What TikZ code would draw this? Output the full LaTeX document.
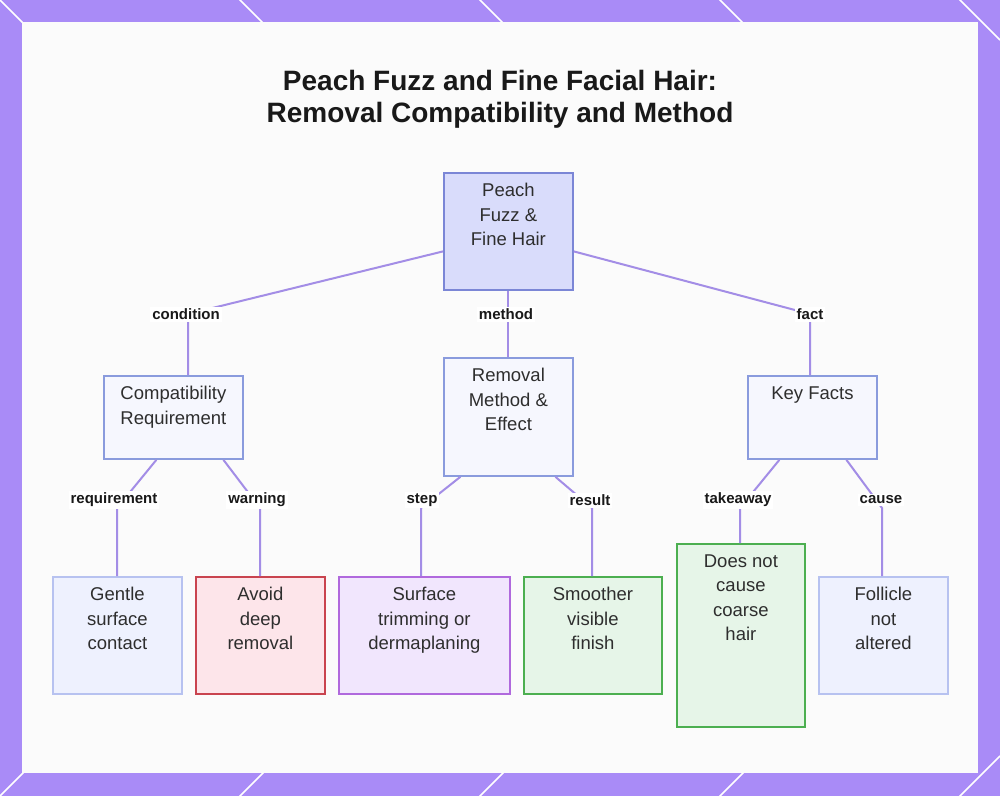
\documentclass[tikz,border=0pt]{standalone}
\usepackage{fontspec}
\setmainfont{Liberation Sans}
\usetikzlibrary{calc}
\begin{document}
\begin{tikzpicture}[x=1pt,y=-1pt,
  box/.style={draw, line width=1.8pt, anchor=north west, inner sep=0pt},
  txt/.style={align=center, font=\fontsize{18.5}{24.5}\selectfont, text=black!82, anchor=north},
  lab/.style={font=\bfseries\fontsize{15}{17}\selectfont, fill=white, inner sep=2pt, text=black!90},
  edge/.style={draw=edgec, line width=2pt}]
\definecolor{purp}{HTML}{A98BF7}
\definecolor{edgec}{HTML}{A38DE6}
\definecolor{bA}{HTML}{D9DCFB}\definecolor{dA}{HTML}{7B86D6}
\definecolor{bB}{HTML}{F6F7FE}\definecolor{dB}{HTML}{8A9BDD}
\definecolor{bC}{HTML}{EEF1FE}\definecolor{dC}{HTML}{B7C2F0}
\definecolor{bR}{HTML}{FDE5EA}\definecolor{dR}{HTML}{C9444F}
\definecolor{bP}{HTML}{F1E6FD}\definecolor{dP}{HTML}{B069DD}
\definecolor{bG}{HTML}{E6F5E8}\definecolor{dG}{HTML}{4CAF50}
\useasboundingbox (0,0) rectangle (1000,796);
\fill[purp] (0,0) rectangle (1000,796);
\foreach \a in {0,240,...,1200}{\draw[white, line width=1.5pt] (\a-40,-40) -- (\a+40,40);}
\foreach \a in {0,240,...,1200}{\draw[white, line width=1.5pt] (\a-40,836) -- (\a+40,756);}
\fill[white!97!gray] (22,22) rectangle (978,773);
\node[font=\bfseries\fontsize{28}{32}\selectfont, align=center, text=black!90] (title) at (500,99) {Peach Fuzz and Fine Facial Hair:\\Removal Compatibility and Method};
% nodes
\node[box, fill=bA, draw=dA, minimum width=129pt, minimum height=117pt] (root) at (443,172) {};
\node[txt] (rt) at ($(root.north)+(0,8)$) {Peach\\Fuzz \&\\Fine Hair};
\node[box, fill=bB, draw=dB, minimum width=139pt, minimum height=83pt] (comp) at (103,375) {};
\node[txt] (ct) at ($(comp.north)+(0,8)$) {Compatibility\\Requirement};
\node[box, fill=bB, draw=dB, minimum width=129pt, minimum height=118pt] (rem) at (443,357) {};
\node[txt] (rmt) at ($(rem.north)+(0,8)$) {Removal\\Method \&\\Effect};
\node[box, fill=bB, draw=dB, minimum width=129pt, minimum height=83pt] (key) at (747,375) {};
\node[txt] (kt) at ($(key.north)+(0,8)$) {Key Facts};
\node[box, fill=bC, draw=dC, minimum width=129pt, minimum height=117pt] (gen) at (52,576) {};
\node[txt] (gt) at ($(gen.north)+(0,8)$) {Gentle\\surface\\contact};
\node[box, fill=bR, draw=dR, minimum width=129pt, minimum height=117pt] (avo) at (195,576) {};
\node[txt] (at) at ($(avo.north)+(0,8)$) {Avoid\\deep\\removal};
\node[box, fill=bP, draw=dP, minimum width=171pt, minimum height=117pt] (sur) at (338,576) {};
\node[txt] (st) at ($(sur.north)+(0,8)$) {Surface\\trimming or\\dermaplaning};
\node[box, fill=bG, draw=dG, minimum width=138pt, minimum height=117pt] (smo) at (523,576) {};
\node[txt] (smt) at ($(smo.north)+(0,8)$) {Smoother\\visible\\finish};
\node[box, fill=bG, draw=dG, minimum width=128pt, minimum height=183pt] (doe) at (676,543) {};
\node[txt] (dt) at ($(doe.north)+(0,8)$) {Does not\\cause\\coarse\\hair};
\node[box, fill=bC, draw=dC, minimum width=129pt, minimum height=117pt] (fol) at (818,576) {};
\node[txt] (ft) at ($(fol.north)+(0,8)$) {Follicle\\not\\altered};
% bend points
\coordinate (c1) at (188,314); \coordinate (c3) at (810,314);
\coordinate (c4) at (117,508); \coordinate (c5) at (260,508);
\coordinate (c6) at (421,508); \coordinate (c7) at (592,508);
\coordinate (c8) at (740,508); \coordinate (c9) at (882,508);
% edges
\draw[edge] ($(root.west)+(0,20)$) -- (c1) -- (c1 |- comp.north);
\draw[edge] (root.south) -- (rem.north);
\draw[edge] ($(root.east)+(0,20)$) -- (c3) -- (c3 |- key.north);
\draw[edge] ($(comp.south)+(-17,0)$) -- (c4) -- (c4 |- gen.north);
\draw[edge] ($(comp.south)+(50,0)$) -- (c5) -- (c5 |- avo.north);
\draw[edge] ($(rem.south)+(-48,0)$) -- (c6) -- (c6 |- sur.north);
\draw[edge] ($(rem.south)+(47,0)$) -- (c7) -- (c7 |- smo.north);
\draw[edge] ($(key.south)+(-33,0)$) -- (c8) -- (c8 |- doe.north);
\draw[edge] ($(key.south)+(34,0)$) -- (c9) -- (c9 |- fol.north);
\node[lab] (l1) at (186,314) {condition};
\node[lab] (l2) at (506,314) {method};
\node[lab] (l3) at (810,314) {fact};
\node[lab] (l4) at (114,500) {requirement};
\node[lab] (l5) at (257,500) {warning};
\node[lab] (l6) at (422,500) {step};
\node[lab] (l7) at (590,500) {result};
\node[lab] (l8) at (738,500) {takeaway};
\node[lab] (l9) at (881,500) {cause};
\end{tikzpicture}
\end{document}
